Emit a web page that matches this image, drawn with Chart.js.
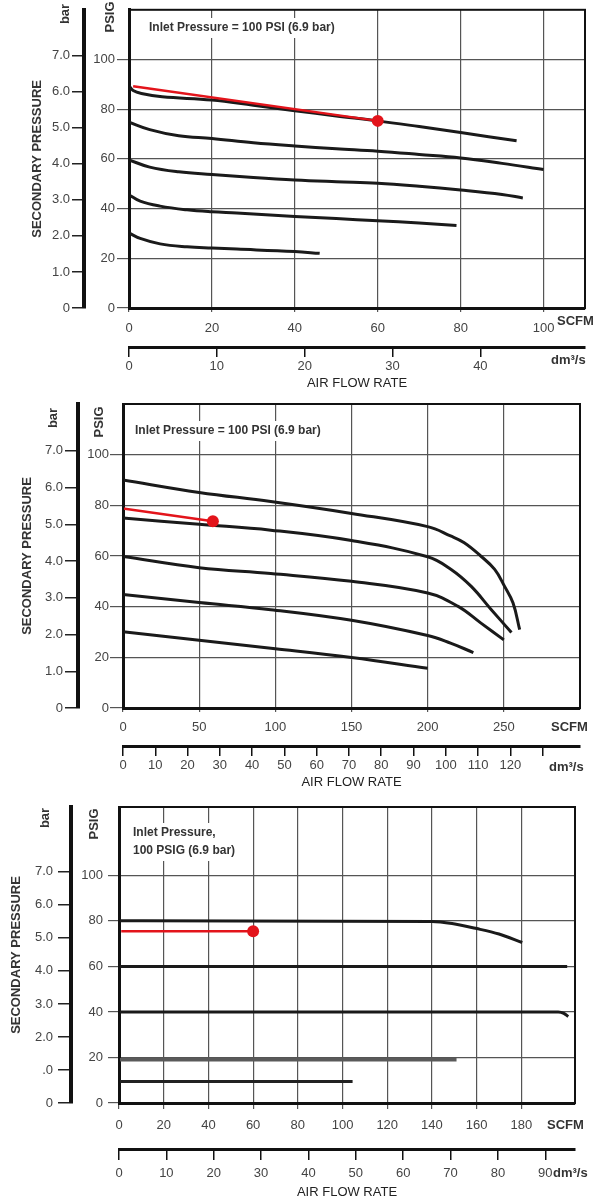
<!DOCTYPE html>
<html>
<head>
<meta charset="utf-8">
<script src="https://cdn.jsdelivr.net/npm/chart.js@4"></script>
<style>
  body { margin: 0; background: #fff; }
  canvas { position: absolute; left: 0; }
</style>
</head>
<body>
<canvas id="chart1" width="600" height="392" style="top:0px"></canvas>
<canvas id="chart2" width="600" height="398" style="top:392px"></canvas>
<canvas id="chart3" width="600" height="410" style="top:790px"></canvas>
<script>
// unit conversions for the second scales
const PSI_PER_BAR = 14.504;
const SCFM_PER_DM3S = 2.119;

// ticks
const psigTicks = [0, 20, 40, 60, 80, 100];
const barTicks = [0, 1, 2, 3, 4, 5, 6, 7];
const barLabels = ['0', '1.0', '2.0', '3.0', '4.0', '5.0', '6.0', '7.0'];
const barLabels3 = ['0', '.0', '2.0', '3.0', '4.0', '5.0', '6.0', '7.0'];
const scfmTicks1 = [0, 20, 40, 60, 80, 100];
const dmTicks1 = [0, 10, 20, 30, 40];
const scfmTicks2 = [0, 50, 100, 150, 200, 250];
const dmTicks2 = [0, 10, 20, 30, 40, 50, 60, 70, 80, 90, 100, 110, 120, 130];
const dmLabels2 = ['0', '10', '20', '30', '40', '50', '60', '70', '80', '90', '100', '110', '120', ''];
const scfmTicks3 = [0, 20, 40, 60, 80, 100, 120, 140, 160, 180];
const dmTicks3 = [0, 10, 20, 30, 40, 50, 60, 70, 80, 90];

// chart 1 - flow (SCFM) vs secondary pressure (PSIG)
const p1aFlow = [0, 1, 3, 8, 20, 30, 40, 50, 60, 70, 80, 93.5];
const p1aPsig = [89.4, 87.5, 86.3, 85, 83.7, 81.6, 79.4, 77.3, 75.3, 73, 70.6, 67.3];
const p1bFlow = [0, 5, 12, 20, 30, 40, 50, 60, 70, 80, 90, 100];
const p1bPsig = [74.8, 71.8, 69.3, 68.2, 66.5, 65.2, 64.1, 63.1, 61.8, 60.4, 58.2, 55.7];
const p1cFlow = [0, 5, 12, 20, 30, 40, 50, 60, 70, 80, 90, 95];
const p1cPsig = [59.6, 56.7, 54.8, 53.7, 52.5, 51.5, 50.8, 50.2, 49, 47.5, 45.7, 44.3];
const p1dFlow = [0, 2.7, 7.5, 14, 20, 26, 32, 40, 50, 60, 70, 79];
const p1dPsig = [45.6, 43, 41, 39.5, 38.7, 38.2, 37.6, 36.8, 36, 35.1, 34.2, 33.2];
const p1eFlow = [0, 2.7, 7.5, 14, 20, 26, 40, 46];
const p1ePsig = [30.2, 28, 25.8, 24.6, 24.1, 23.7, 22.7, 22];
const p1RedFlow = [1, 60];
const p1RedPsig = [89.2, 75.3];

// chart 2
const p2aFlow = [0, 50, 97, 150, 200, 215, 224, 235, 244, 250.5, 256, 260.4];
const p2aPsig = [90, 85.1, 81.5, 76.8, 71.6, 67.9, 65.2, 59.9, 54.7, 48, 41.5, 30.9];
const p2bFlow = [0, 50, 97, 150, 200, 215.4, 228.6, 241.8, 255];
const p2bPsig = [75, 72.5, 70.2, 66.1, 59.7, 54.7, 48, 38.8, 29.8];
const p2cFlow = [0, 50, 97, 150, 200, 220, 235, 250];
const p2cPsig = [59.8, 55.4, 53.1, 50, 45.4, 40.1, 33.5, 26.9];
const p2dFlow = [0, 50, 97, 150, 200, 215, 230];
const p2dPsig = [44.8, 41.6, 38.8, 34.6, 28.6, 25.6, 21.9];
const p2eFlow = [0, 50, 100, 150, 200];
const p2ePsig = [30.1, 26.7, 23.4, 19.9, 15.7];
const p2RedFlow = [0, 59];
const p2RedPsig = [78.8, 73.7];

// chart 3
const p3aFlow = [0, 140, 149, 160, 170, 180.4];
const p3aPsig = [80, 79.7, 78.8, 76.6, 74.2, 70.5];
const p3bFlow = [0, 200.5];
const p3bPsig = [60, 60];
const p3cFlow = [0, 196.5, 199, 201];
const p3cPsig = [40, 40, 39.4, 38];
const p3dFlow = [0, 151];
const p3dPsig = [19, 19];
const p3eFlow = [0, 104.5];
const p3ePsig = [9.4, 9.4];
const p3RedFlow = [1, 60];
const p3RedPsig = [75.4, 75.4];

const FAMILY = '"Liberation Sans", Arial, sans-serif';
Chart.defaults.font.family = FAMILY;
const tickFont = { size: 13 };

function lineSet(xs, ys, color, width, mono) {
    return {
        data: xs.map((x, i) => ({ x: x, y: ys[i] })),
        xAxisID: 'x',
        yAxisID: 'y',
        borderColor: color,
        borderWidth: width,
        pointRadius: 0,
        tension: 0.4,
        cubicInterpolationMode: mono ? 'monotone' : 'default',
        fill: false
    };
}

function redSet(xs, ys) {
    const s = lineSet(xs, ys, '#e3141b', 2.5);
    s.tension = 0;
    s.pointRadius = ctx => ctx.dataIndex === xs.length - 1 ? 6 : 0;
    s.pointBackgroundColor = '#e3141b';
    s.pointBorderWidth = 0;
    return s;
}

// frame round the plot, plus the loose labels
const decor = {
    id: 'decor',
    afterDraw(chart, args, opts) {
        const ctx = chart.ctx;
        const a = chart.chartArea;
        ctx.save();
        ctx.strokeStyle = '#111';
        ctx.lineWidth = 2;
        ctx.strokeRect(a.left, a.top, a.right - a.left, a.bottom - a.top);
        (opts.texts || []).forEach(t => {
            ctx.save();
            ctx.font = t.font;
            ctx.textBaseline = 'middle';
            ctx.textAlign = t.rot ? 'center' : 'left';
            ctx.translate(t.x, t.y);
            if (t.rot) ctx.rotate(-Math.PI / 2);
            if (t.bg) {
                const w = ctx.measureText(t.text).width;
                ctx.fillStyle = '#fff';
                ctx.fillRect(-3, -10, w + 6, 20);
            }
            ctx.fillStyle = '#333';
            ctx.fillText(t.text, 0, 0);
            ctx.restore();
        });
        ctx.restore();
    }
};

function makeChart(id, o) {
    return new Chart(document.getElementById(id), {
        type: 'line',
        data: { datasets: o.datasets },
        options: {
            responsive: false,
            animation: false,
            events: [],
            layout: { padding: o.pad },
            plugins: {
                legend: { display: false },
                tooltip: { enabled: false },
                decor: { texts: o.texts }
            },
            scales: {
                x: {
                    type: 'linear', axis: 'x', position: 'bottom', weight: 0,
                    min: 0, max: o.xMax,
                    afterBuildTicks: s => { s.ticks = o.scfmTicks.map(v => ({ value: v })); },
                    afterFit: s => { s.height = o.xH; },
                    ticks: { color: '#444', font: tickFont, padding: o.xPad, maxRotation: 0, autoSkip: false },
                    grid: { color: '#555', lineWidth: 1.2, tickLength: o.xTick },
                    border: { color: '#111', width: 3 }
                },
                xDm: {
                    type: 'linear', axis: 'x', position: 'bottom', weight: 1,
                    min: 0, max: o.xMax / SCFM_PER_DM3S,
                    afterBuildTicks: s => { s.ticks = o.dmTicks.map(v => ({ value: v })); },
                    afterFit: s => { s.height = o.dmH; },
                    ticks: {
                        color: '#444', font: tickFont, padding: o.dmPad, maxRotation: 0, autoSkip: false,
                        callback: (v, i) => o.dmLabels ? o.dmLabels[i] : String(v)
                    },
                    grid: { drawOnChartArea: false, color: '#111', lineWidth: 1.5, tickLength: o.dmTick },
                    border: { color: '#111', width: 3 },
                    title: {
                        display: true, text: 'AIR FLOW RATE', color: '#222',
                        font: { size: 13 }, padding: { top: 0, bottom: o.airPad }
                    }
                },
                y: {
                    type: 'linear', axis: 'y', position: 'left', weight: 0,
                    min: 0, max: o.yMax,
                    afterBuildTicks: s => { s.ticks = psigTicks.map(v => ({ value: v })); },
                    afterFit: s => { s.width = o.yW; },
                    ticks: { color: '#444', font: tickFont, padding: o.yPad },
                    grid: { color: '#555', lineWidth: 1.2, tickLength: o.yTick },
                    border: { color: '#111', width: 3 }
                },
                yBar: {
                    type: 'linear', axis: 'y', position: 'left', weight: 1,
                    min: 0, max: o.yMax / PSI_PER_BAR,
                    afterBuildTicks: s => { s.ticks = barTicks.map(v => ({ value: v })); },
                    afterFit: s => { s.width = o.barW; },
                    ticks: { color: '#444', font: tickFont, padding: o.barPad, callback: (v, i) => o.barLabels[i] },
                    grid: { drawOnChartArea: false, color: '#222', lineWidth: 1.5, tickLength: o.barTick },
                    border: { color: '#111', width: 4 },
                    title: {
                        display: true, text: 'SECONDARY PRESSURE', color: '#333',
                        font: { size: 13, weight: 'bold' }, padding: { top: o.secPad, bottom: 0 }
                    }
                }
            }
        },
        plugins: [decor]
    });
}

const bold13 = 'bold 13px ' + FAMILY;
const bold12 = 'bold 12px ' + FAMILY;

makeChart('chart1', {
    pad: { left: 0, top: 3, right: 15, bottom: 0 },
    xMax: 110, yMax: 120,
    scfmTicks: scfmTicks1, dmTicks: dmTicks1, barLabels: barLabels,
    xH: 39, xTick: 4, xPad: 9,
    dmH: 45, dmTick: 10, dmPad: 2, airPad: 1,
    yW: 45, yTick: 12, yPad: 2,
    barW: 84, barTick: 12, barPad: 2, secPad: 30,
    datasets: [
        redSet(p1RedFlow, p1RedPsig),
        lineSet(p1aFlow, p1aPsig, '#1a1a1a', 3),
        lineSet(p1bFlow, p1bPsig, '#1a1a1a', 3),
        lineSet(p1cFlow, p1cPsig, '#1a1a1a', 3),
        lineSet(p1dFlow, p1dPsig, '#1a1a1a', 3),
        lineSet(p1eFlow, p1ePsig, '#1a1a1a', 3)
    ],
    texts: [
        { text: 'bar', x: 65, y: 14, font: bold13, rot: true },
        { text: 'PSIG', x: 110, y: 17, font: bold13, rot: true },
        { text: 'Inlet Pressure = 100 PSI (6.9 bar)', x: 149, y: 28, font: bold12, bg: true },
        { text: 'SCFM', x: 557, y: 321, font: bold13 },
        { text: 'dm³/s', x: 551, y: 360, font: bold13 }
    ]
});

makeChart('chart2', {
    pad: { left: 0, top: 12, right: 20, bottom: 0 },
    xMax: 300, yMax: 120,
    scfmTicks: scfmTicks2, dmTicks: dmTicks2, dmLabels: dmLabels2, barLabels: barLabels,
    xH: 38, xTick: 4, xPad: 8,
    dmH: 44, dmTick: 10, dmPad: 2, airPad: 0,
    yW: 45, yTick: 13, yPad: 1,
    barW: 78, barTick: 13, barPad: 2, secPad: 20,
    datasets: [
        redSet(p2RedFlow, p2RedPsig),
        lineSet(p2aFlow, p2aPsig, '#1a1a1a', 3),
        lineSet(p2bFlow, p2bPsig, '#1a1a1a', 3),
        lineSet(p2cFlow, p2cPsig, '#1a1a1a', 3),
        lineSet(p2dFlow, p2dPsig, '#1a1a1a', 3),
        lineSet(p2eFlow, p2ePsig, '#1a1a1a', 3)
    ],
    texts: [
        { text: 'bar', x: 53, y: 26, font: bold13, rot: true },
        { text: 'PSIG', x: 99, y: 30, font: bold13, rot: true },
        { text: 'Inlet Pressure = 100 PSI (6.9 bar)', x: 135, y: 39, font: bold12, bg: true },
        { text: 'SCFM', x: 551, y: 335, font: bold13 },
        { text: 'dm³/s', x: 549, y: 375, font: bold13 }
    ]
});

makeChart('chart3', {
    pad: { left: 0, top: 17, right: 25, bottom: 0 },
    xMax: 204, yMax: 130,
    scfmTicks: scfmTicks3, dmTicks: dmTicks3, barLabels: barLabels3,
    xH: 46, xTick: 6, xPad: 9,
    dmH: 51, dmTick: 11, dmPad: 6, airPad: 0,
    yW: 48, yTick: 11, yPad: 5,
    barW: 71, barTick: 13, barPad: 5, secPad: 9,
    datasets: [
        redSet(p3RedFlow, p3RedPsig),
        lineSet(p3aFlow, p3aPsig, '#1a1a1a', 3, true),
        lineSet(p3bFlow, p3bPsig, '#1a1a1a', 3, true),
        lineSet(p3cFlow, p3cPsig, '#1a1a1a', 3, true),
        lineSet(p3dFlow, p3dPsig, '#5a5a5a', 3.5, true),
        lineSet(p3eFlow, p3ePsig, '#222', 3, true)
    ],
    texts: [
        { text: 'bar', x: 45, y: 28, font: bold13, rot: true },
        { text: 'PSIG', x: 94, y: 34, font: bold13, rot: true },
        { text: 'Inlet Pressure,', x: 133, y: 43, font: bold12, bg: true },
        { text: '100 PSIG (6.9 bar)', x: 133, y: 61, font: bold12, bg: true },
        { text: 'SCFM', x: 547, y: 335, font: bold13 },
        { text: 'dm³/s', x: 553, y: 383, font: bold13 }
    ]
});
</script>
</body>
</html>
